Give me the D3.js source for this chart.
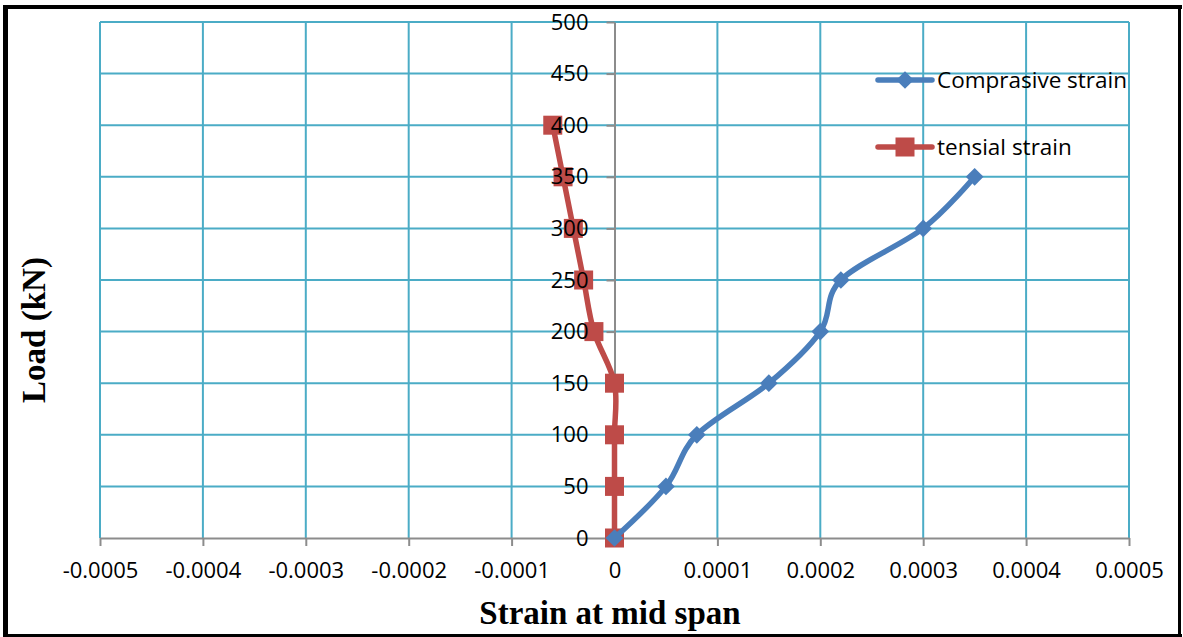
<!DOCTYPE html>
<html>
<head>
<meta charset="utf-8">
<script src="https://cdn.jsdelivr.net/npm/d3@7"></script>
<style>
  html, body { margin: 0; padding: 0; background: #fff; }
  svg { display: block; }
</style>
</head>
<body>
<svg id="chart" width="1183" height="637"></svg>
<script>
// Load levels (kN) and measured strains at mid span
const compLoad   = [0, 50, 100, 150, 200, 250, 300, 350];
const compStrain = [0, 0.00005, 0.00008, 0.00015, 0.0002, 0.00022, 0.0003, 0.00035];

const tensLoad   = [0, 50, 100, 150, 200, 250, 300, 350, 400];
const tensStrain = [0, 0, 0, 0, -0.00002, -0.00003, -0.00004, -0.00005, -0.00006];

const seriesNames = ["Comprasive strain", "tensial strain"];
const xTicks = [-0.0005, -0.0004, -0.0003, -0.0002, -0.0001, 0, 0.0001, 0.0002, 0.0003, 0.0004, 0.0005];
const yTicks = [0, 50, 100, 150, 200, 250, 300, 350, 400, 450, 500];

const svg = d3.select("#chart");
const W = 1183, H = 637;
const plot = { left: 100, right: 1129, top: 22, bottom: 538 };

const x = d3.scaleLinear().domain([-0.0005, 0.0005]).range([plot.left, plot.right]);
const y = d3.scaleLinear().domain([0, 500]).range([plot.bottom, plot.top]);

const blue = "#4A7EBB", red = "#BE4B48", gridCol = "#4BACC6", axisCol = "#8C8C8C";
const tickFont = "'Open Sans', 'Liberation Sans', sans-serif";

// Outer frame
svg.append("rect").attr("width", W).attr("height", H).attr("fill", "#fff");
const frame = svg.append("g").attr("fill", "#000");
frame.append("rect").attr("x", 3).attr("y", 5).attr("width", 5).attr("height", 632);
frame.append("rect").attr("x", 3).attr("y", 5).attr("width", 1179).attr("height", 4);
frame.append("rect").attr("x", 1178).attr("y", 5).attr("width", 3).attr("height", 632);
frame.append("rect").attr("x", 3).attr("y", 634).attr("width", 1179).attr("height", 3);

// Gridlines
const grid = svg.append("g").attr("stroke", gridCol).attr("stroke-width", 2);
grid.selectAll("line.v").data(xTicks.filter(d => d !== 0)).join("line")
  .attr("x1", d => x(d)).attr("x2", d => x(d))
  .attr("y1", plot.top).attr("y2", plot.bottom);
grid.selectAll("line.h").data(yTicks.filter(d => d !== 0)).join("line")
  .attr("x1", plot.left).attr("x2", plot.right)
  .attr("y1", d => y(d)).attr("y2", d => y(d));

// Axes crossing at the origin
const xAxisGen = d3.axisBottom(x).tickValues(xTicks).tickSizeInner(8).tickSizeOuter(0)
  .tickPadding(16).tickFormat(d => d === 0 ? "0" : d3.format(".4f")(d).replace("−", "-"));
const yAxisGen = d3.axisLeft(y).tickValues(yTicks).tickSizeInner(8).tickSizeOuter(0)
  .tickPadding(18);

// Axis lines and ticks sit beneath the series
function drawAxis(gen, transform, withText) {
  const a = svg.append("g").attr("transform", transform).call(gen);
  a.select(".domain").attr("stroke", axisCol).attr("stroke-width", 2);
  a.selectAll(".tick line").attr("stroke", axisCol).attr("stroke-width", 2);
  a.selectAll(".tick text").attr("fill", "#000")
    .style("font-family", tickFont).style("font-size", "22px");
  if (withText) {
    a.select(".domain").remove();
    a.selectAll(".tick line").remove();
  } else {
    a.selectAll(".tick text").remove();
  }
  return a;
}
drawAxis(xAxisGen, `translate(0,${y(0)})`, false);
drawAxis(yAxisGen, `translate(${x(0)},0)`, false);

// Series
const line = d3.line().curve(d3.curveCardinal.tension(0)).x(d => x(d[0])).y(d => y(d[1]));
const compData = compStrain.map((s, i) => [s, compLoad[i]]);
const tensData = tensStrain.map((s, i) => [s, tensLoad[i]]);

const series = svg.append("g");
series.append("path").datum(tensData).attr("d", line)
  .attr("fill", "none").attr("stroke", red).attr("stroke-width", 5.5).attr("stroke-linejoin", "round");
series.selectAll("rect.m").data(tensData).join("rect")
  .attr("x", d => x(d[0]) - 9.5).attr("y", d => y(d[1]) - 9.5)
  .attr("width", 19).attr("height", 19).attr("fill", red);

series.append("path").datum(compData).attr("d", line)
  .attr("fill", "none").attr("stroke", blue).attr("stroke-width", 5.5).attr("stroke-linejoin", "round");
const diamond = d3.symbol().type(d3.symbolDiamond2).size(200);
series.selectAll("path.m").data(compData).join("path")
  .attr("transform", d => `translate(${x(d[0])},${y(d[1])})`)
  .attr("d", diamond).attr("fill", blue);

// Tick labels on top of the series
drawAxis(xAxisGen, `translate(0,${y(0)})`, true);
drawAxis(yAxisGen, `translate(${x(0)},0)`, true);

// Legend
const legend = svg.append("g");
const legendItems = [
  { name: seriesNames[0], color: blue, marker: "diamond", y: 80 },
  { name: seriesNames[1], color: red, marker: "square", y: 147 }
];
legendItems.forEach(it => {
  const g = legend.append("g").attr("transform", `translate(0,${it.y})`);
  g.append("line").attr("x1", 878).attr("x2", 932).attr("y1", 0).attr("y2", 0)
    .attr("stroke", it.color).attr("stroke-width", 5.5).attr("stroke-linecap", "round");
  if (it.marker === "diamond") {
    g.append("path").attr("transform", "translate(905,0)").attr("d", diamond).attr("fill", it.color);
  } else {
    g.append("rect").attr("x", 895.5).attr("y", -9.5).attr("width", 19).attr("height", 19).attr("fill", it.color);
  }
  g.append("text").attr("x", 937).attr("y", 0).attr("dy", "0.35em")
    .style("font-family", tickFont).style("font-size", "22.5px").text(it.name);
});

// Axis titles
svg.append("text").attr("x", 610).attr("y", 624)
  .attr("text-anchor", "middle")
  .style("font-family", "'Liberation Serif', serif").style("font-weight", "bold").style("font-size", "33px")
  .text("Strain at mid span");
svg.append("text").attr("transform", "translate(45,330) rotate(-90)")
  .attr("text-anchor", "middle")
  .style("font-family", "'Liberation Serif', serif").style("font-weight", "bold").style("font-size", "33px")
  .text("Load (kN)");
</script>
</body>
</html>
